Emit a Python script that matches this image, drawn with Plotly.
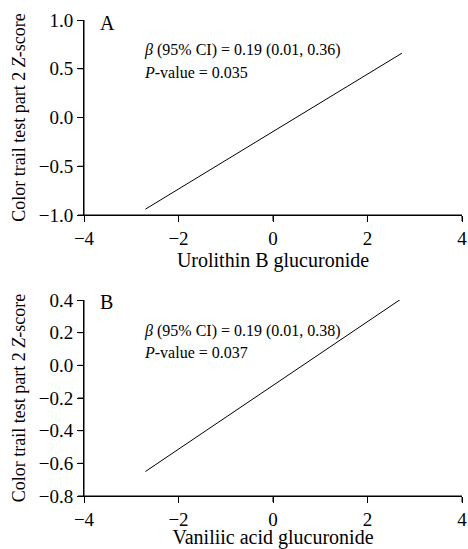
import plotly.graph_objects as go

# Panel A data
a_x = [-2.7, 2.73]
a_y = [-0.94, 0.66]
# Panel B data
b_x = [-2.7, 2.73]
b_y = [-0.65, 0.41]

a_ticks = [1.0, 0.5, 0.0, -0.5, -1.0]
b_ticks = [0.4, 0.2, 0.0, -0.2, -0.4, -0.6, -0.8]
x_ticks = [-4, -2, 0, 2, 4]

W, H = 468, 549
AX_L, AX_R = 84, 462
A_TOP, A_BOT = 20, 215
B_TOP, B_BOT = 300, 496
ML, MR, MT, MB = AX_L, W - AX_R, A_TOP, H - B_BOT
FONT = "Liberation Serif"

fig = go.Figure()
fig.add_trace(go.Scatter(x=a_x, y=a_y, mode="lines", line=dict(color="black", width=1),
                         xaxis="x", yaxis="y", showlegend=False, hoverinfo="skip"))
fig.add_trace(go.Scatter(x=b_x, y=b_y, mode="lines", line=dict(color="black", width=1),
                         xaxis="x2", yaxis="y2", showlegend=False, hoverinfo="skip"))

PH = H - MT - MB
PW = W - ML - MR

def px_x(p):
    return (p - AX_L) / PW

def px_y(p):
    return 1 - (p - A_TOP) / PH

axis_common = dict(showline=True, linecolor="black", linewidth=1, ticks="outside",
                   ticklen=6, tickcolor="black", showgrid=False, zeroline=False,
                   automargin=False,
                   tickfont=dict(family=FONT, size=19, color="black"))

fig.update_layout(
    width=W, height=H,
    margin=dict(l=ML, r=MR, t=MT, b=MB),
    plot_bgcolor="white", paper_bgcolor="white",
    font=dict(family=FONT, color="black"),
    xaxis=dict(domain=[0, 1], range=[-4, 4], tickvals=x_ticks,
               anchor="y", title=dict(text="Urolithin B glucuronide",
                                      font=dict(family=FONT, size=20), standoff=5),
               **axis_common),
    yaxis=dict(domain=[px_y(A_BOT), 1], range=[-1, 1], tickvals=a_ticks,
               tickformat=".1f", anchor="x",
               title=dict(text="Color trail test part 2 <i>Z</i>-score",
                          font=dict(family=FONT, size=18), standoff=8),
               **axis_common),
    xaxis2=dict(domain=[0, 1], range=[-4, 4], tickvals=x_ticks,
                anchor="y2", title=dict(text="Vaniliic acid glucuronide",
                                        font=dict(family=FONT, size=20), standoff=6),
                **axis_common),
    yaxis2=dict(domain=[0, px_y(B_TOP)], range=[-0.8, 0.4], tickvals=b_ticks,
                tickformat=".1f", anchor="x2",
                title=dict(text="Color trail test part 2 <i>Z</i>-score",
                           font=dict(family=FONT, size=18), standoff=8),
                **axis_common),
)

# axis frames and tick marks drawn as layout shapes tied to the axes
line_style = dict(color="black", width=1)
for xr, yr, yt in (("x", "y", a_ticks), ("x2", "y2", b_ticks)):
    fig.add_shape(type="line", xref=f"{xr} domain", yref=f"{yr} domain",
                  x0=0, x1=1, y0=0, y1=0, line=line_style, layer="above")
    fig.add_shape(type="line", xref=f"{xr} domain", yref=f"{yr} domain",
                  x0=0, x1=0, y0=0, y1=1, line=line_style, layer="above")
    for tv in x_ticks:
        fig.add_shape(type="line", xref=xr, yref=f"{yr} domain", ysizemode="pixel",
                      yanchor=0, x0=tv, x1=tv, y0=0, y1=-6, line=line_style, layer="above")
    for tv in yt:
        fig.add_shape(type="line", xref=f"{xr} domain", yref=yr, xsizemode="pixel",
                      xanchor=0, x0=0, x1=-6, y0=tv, y1=tv, line=line_style, layer="above")

ann_font = dict(family=FONT, size=16, color="black")
def ann(text, x, y, size=None):
    f = dict(ann_font)
    if size:
        f["size"] = size
    fig.add_annotation(text=text, xref="paper", yref="paper", x=px_x(x), y=px_y(y),
                       xanchor="left", yanchor="middle", showarrow=False, font=f)

ann("A", 98, 23, 20)
ann("<i>β</i> (95% CI) = 0.19 (0.01, 0.36)", 142, 50)
ann("<i>P</i>-value = 0.035", 142, 72)
ann("B", 98, 302, 20)
ann("<i>β</i> (95% CI) = 0.19 (0.01, 0.38)", 142, 331)
ann("<i>P</i>-value = 0.037", 142, 352)

fig.write_html("out.html", config={"displayModeBar": False},
               post_script="document.body.style.margin='0';document.body.style.overflow='hidden';")
